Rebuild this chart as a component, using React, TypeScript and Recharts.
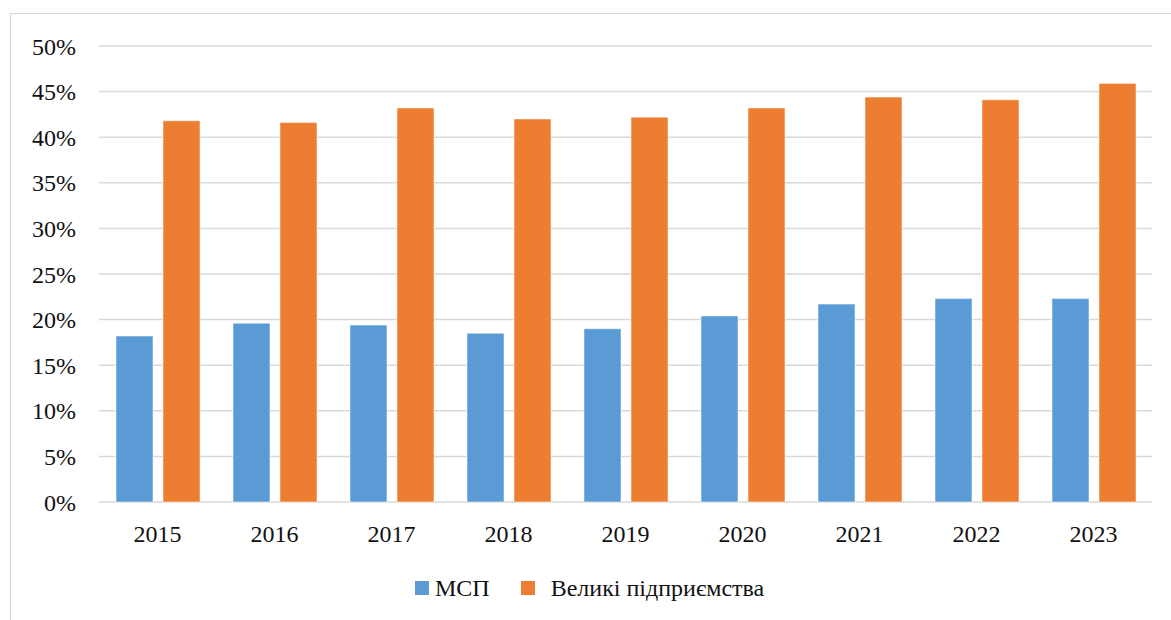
import React from "react";
import { BarChart, Bar, XAxis, YAxis, CartesianGrid } from "recharts";

const years = ["2015", "2016", "2017", "2018", "2019", "2020", "2021", "2022", "2023"];
const smeValues = [18.2, 19.6, 19.4, 18.5, 19.0, 20.4, 21.7, 22.3, 22.3];
const largeValues = [41.8, 41.6, 43.2, 42.0, 42.2, 43.2, 44.4, 44.1, 45.9];
const yTicks = [0, 5, 10, 15, 20, 25, 30, 35, 40, 45, 50];
const seriesNames = ["МСП", "Великі підприємства"];
const seriesColors = ["#5B9BD5", "#ED7D31"];

const data = years.map((y, i) => ({ year: y, sme: smeValues[i], large: largeValues[i] }));

const FONT = "'Liberation Serif', 'Times New Roman', serif";

export default function App() {
  return (
    <div style={{ position: "absolute", left: 0, top: 0, width: 1171, height: 620, overflow: "hidden", background: "#fff" }}>
      <div style={{ position: "absolute", left: 10, top: 13, width: 1300, height: 800, border: "1px solid #d6d6d6", boxSizing: "border-box" }} />
      <div style={{ position: "absolute", left: 0, top: 0 }}>
        <BarChart
          width={1171}
          height={620}
          data={data}
          margin={{ top: 46, right: 19, left: 0, bottom: 88 }}
          barSize={37}
          barGap={10}
          style={{ fontFamily: FONT }}
        >
          <CartesianGrid vertical={false} stroke="#d9d9d9" strokeWidth={1.5} />
          <XAxis
            dataKey="year"
            height={30}
            axisLine={false}
            tickLine={false}
            tickSize={0}
            tickMargin={23}
            tick={{ fill: "#111", fontSize: 24, fontFamily: FONT }}
          />
          <YAxis
            width={99}
            domain={[0, 50]}
            ticks={yTicks}
            interval={0}
            axisLine={false}
            tickLine={false}
            tickSize={0}
            tickMargin={23}
            tickFormatter={(v: number) => `${v}%`}
            tick={{ fill: "#111", fontSize: 24, fontFamily: FONT }}
          />
          <Bar dataKey="sme" name={seriesNames[0]} fill={seriesColors[0]} stroke="#ffffff" strokeOpacity={0.5} strokeWidth={1} isAnimationActive={false} />
          <Bar dataKey="large" name={seriesNames[1]} fill={seriesColors[1]} stroke="#ffffff" strokeOpacity={0.5} strokeWidth={1} isAnimationActive={false} />
        </BarChart>
      </div>
      <div style={{ position: "absolute", left: 415, top: 575, height: 26, display: "flex", alignItems: "center", fontFamily: FONT, fontSize: 24, color: "#111", whiteSpace: "nowrap" }}>
        {seriesNames.map((name, i) => (
          <div key={name} style={{ display: "flex", alignItems: "center", marginRight: i === 0 ? 31 : 0 }}>
            <div style={{ width: 14, height: 14, background: seriesColors[i], marginRight: i === 0 ? 6 : 16 }} />
            <span style={{ lineHeight: "26px" }}>{name}</span>
          </div>
        ))}
      </div>
    </div>
  );
}
